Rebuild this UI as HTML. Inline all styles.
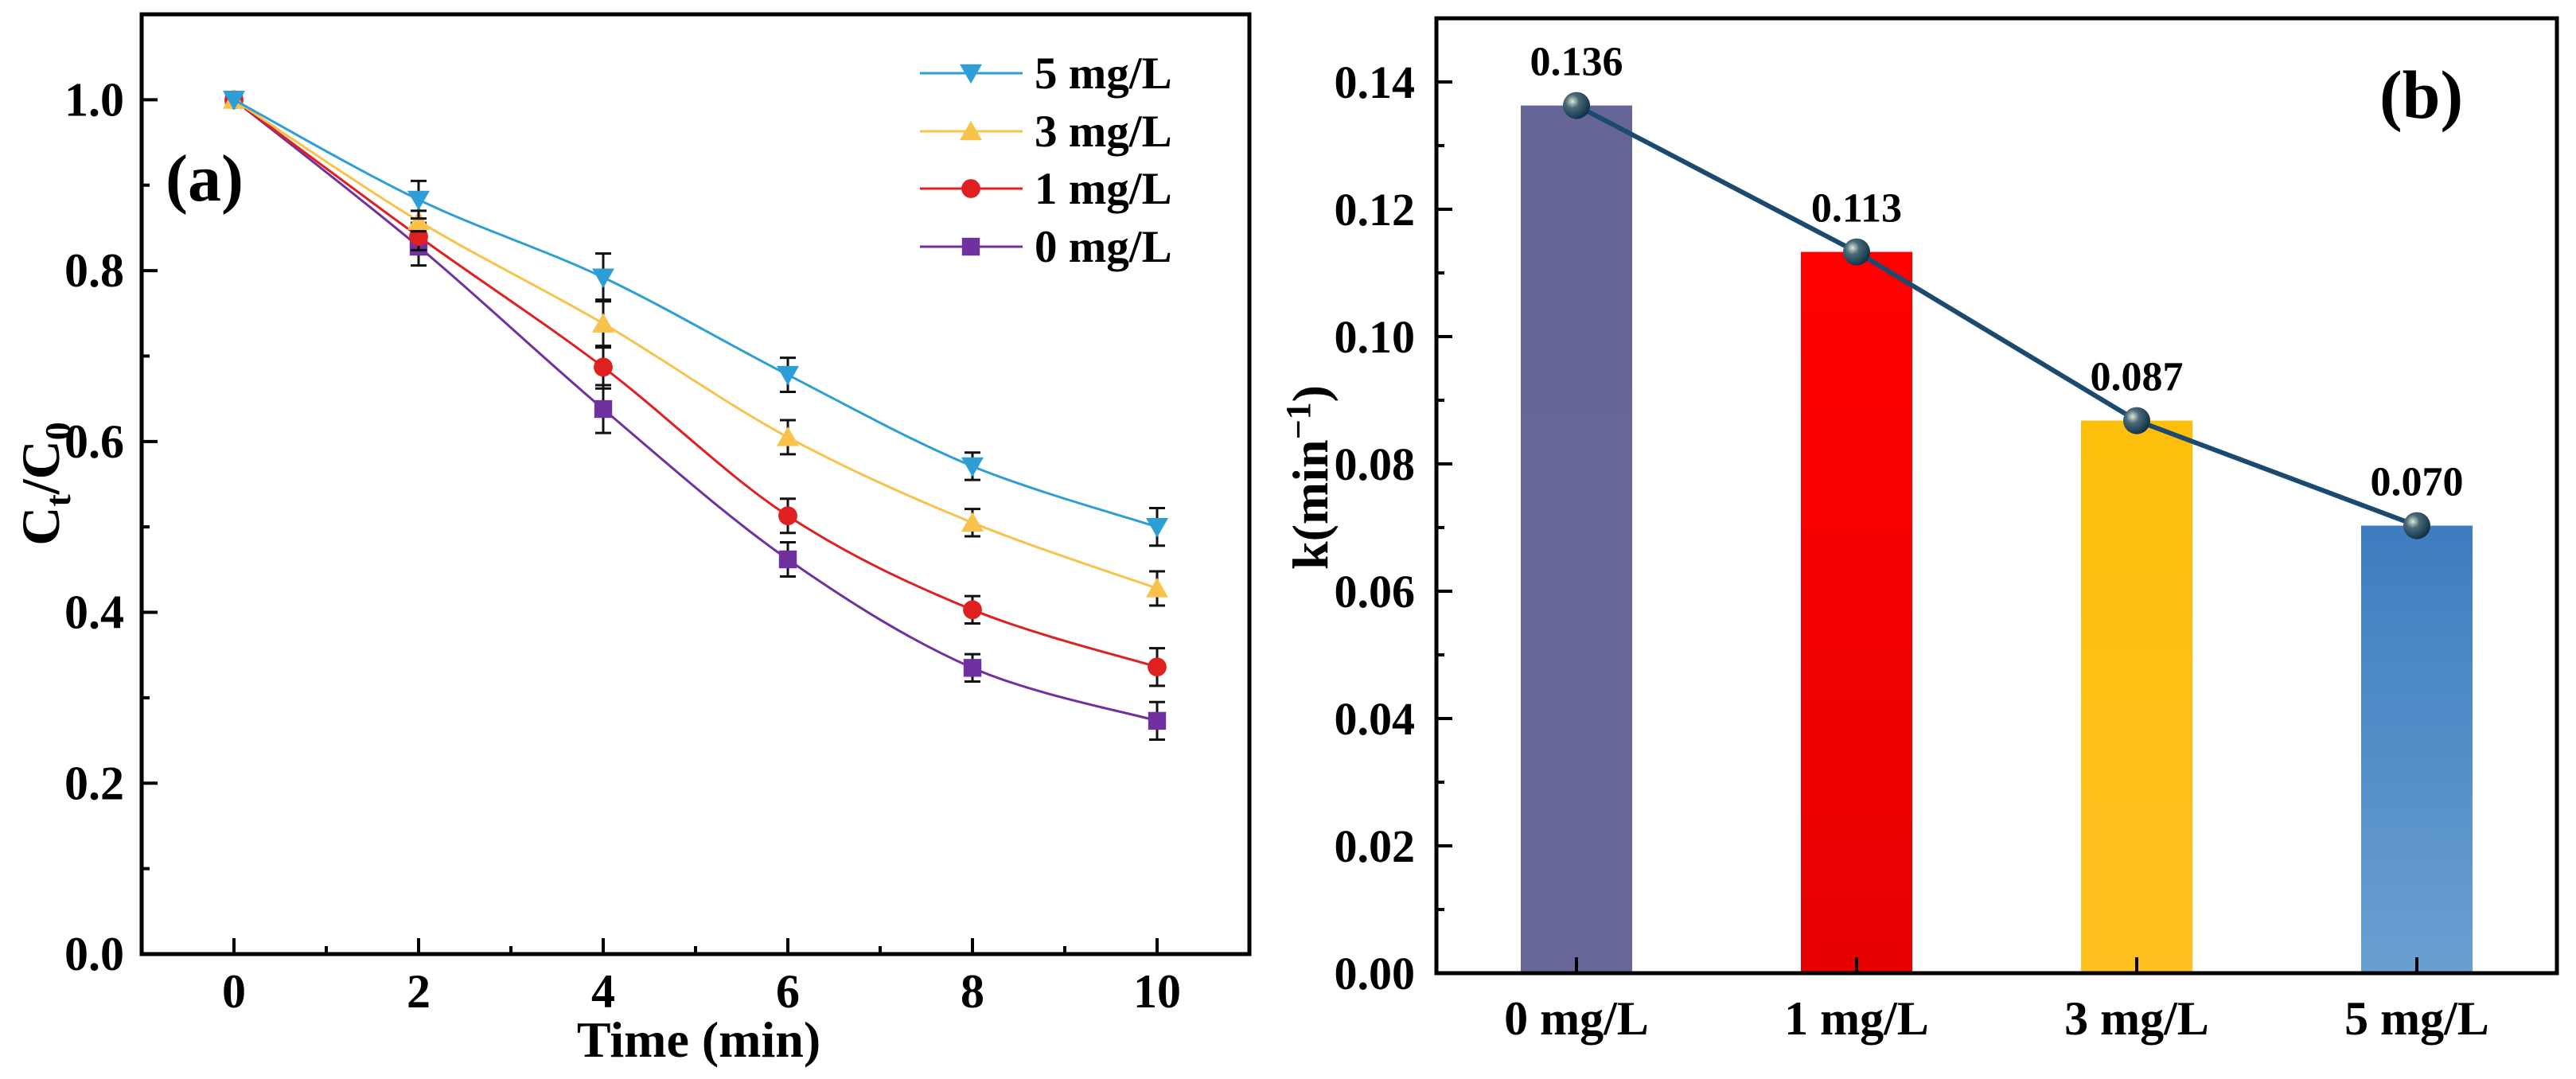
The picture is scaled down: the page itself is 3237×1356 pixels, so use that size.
<!DOCTYPE html>
<html><head><meta charset="utf-8"><style>
html,body{margin:0;padding:0;background:#fff;}
svg{display:block;font-family:"Liberation Serif",serif;font-weight:bold;}
</style></head><body>
<svg id="chart" width="3237" height="1356" viewBox="0 0 3237 1356" xmlns="http://www.w3.org/2000/svg">
<defs>
<radialGradient id="ball" cx="0.35" cy="0.35" r="0.7">
<stop offset="0" stop-color="#dfe8d8"/><stop offset="0.35" stop-color="#4a6a78"/><stop offset="1" stop-color="#0d2f45"/>
</radialGradient>
<linearGradient id="g0" x1="0" y1="0" x2="0" y2="1"><stop offset="0" stop-color="#656596"/><stop offset="1" stop-color="#686898"/></linearGradient>
<linearGradient id="g1" x1="0" y1="0" x2="0" y2="1"><stop offset="0" stop-color="#ff0000"/><stop offset="1" stop-color="#e60000"/></linearGradient>
<linearGradient id="g2" x1="0" y1="0" x2="0" y2="1"><stop offset="0" stop-color="#fdbf0b"/><stop offset="1" stop-color="#fdc020"/></linearGradient>
<linearGradient id="g3" x1="0" y1="0" x2="0" y2="1"><stop offset="0" stop-color="#3d7dbf"/><stop offset="1" stop-color="#6a9fd1"/></linearGradient>
</defs>
<g id="pa"></g>
<g id="pb"></g>
</svg>
<script>
const times=[0,2,4,6,8,10];
const seriesNames=["5 mg/L","3 mg/L","1 mg/L","0 mg/L"];
const s5=[1.0,0.883,0.792,0.678,0.571,0.500];
const s3=[1.0,0.858,0.738,0.605,0.505,0.428];
const s1=[1.0,0.840,0.687,0.513,0.403,0.336];
const s0=[1.0,0.828,0.638,0.462,0.335,0.273];
const e5=[0,0.022,0.028,0.02,0.016,0.022];
const e3=[0,0.012,0.028,0.02,0.016,0.02];
const e1=[0,0.016,0.025,0.02,0.016,0.022];
const e0=[0,0.022,0.028,0.02,0.016,0.022];
const xTicksA=[0,2,4,6,8,10];
const yTicksA=["0.0","0.2","0.4","0.6","0.8","1.0"];
const catsB=["0 mg/L","1 mg/L","3 mg/L","5 mg/L"];
const kVals=[0.1363,0.1133,0.0868,0.0703];
const kLabels=["0.136","0.113","0.087","0.070"];
const yTicksB=["0.00","0.02","0.04","0.06","0.08","0.10","0.12","0.14"];

const NS="http://www.w3.org/2000/svg";
function mk(parent,tag,attrs,text){const e=document.createElementNS(NS,tag);for(const k in attrs)e.setAttribute(k,attrs[k]);if(text!==undefined)e.textContent=text;parent.appendChild(e);return e;}

// Panel A
const pa=document.getElementById('pa');
const AL=178,AR=1570,AT=18,AB=1199;
const XMIN=-1,XMAX=11;
const ax=v=>AL+(v-XMIN)/(XMAX-XMIN)*(AR-AL);
const ay=v=>AB-v/1.1*(AB-AT);
let e;
e=mk(pa,'rect',{x:AL,y:AT,width:AR-AL,height:AB-AT,fill:'none',stroke:'#000','stroke-width':5});

for(let t=0;t<=10;t++){const x=ax(t);const major=t%2===0;
 e=mk(pa,'line',{x1:x,y1:AB,x2:x,y2:AB-(major?20:10),stroke:'#000','stroke-width':4});
 }
xTicksA.forEach(t=>{e=mk(pa,'text',{x:ax(t),y:1266,'font-size':60,'text-anchor':'middle'},String(t));
 });
for(let i=0;i<=10;i++){const y=ay(i*0.1);const major=i%2===0;
 e=mk(pa,'line',{x1:AL,y1:y,x2:AL+(major?20:10),y2:y,stroke:'#000','stroke-width':4});
 }
yTicksA.forEach(t=>{e=mk(pa,'text',{x:156,y:ay(parseFloat(t))+20,'font-size':60,'text-anchor':'end'},t);
 });
e=mk(pa,'text',{x:878,y:1328,'font-size':64,'text-anchor':'middle'},'Time (min)');

e=mk(pa,'text',{x:0,y:0,'font-size':68,'text-anchor':'middle',transform:'translate(74,608) rotate(-90)'});

e.innerHTML='C<tspan font-size="46" dy="14">t</tspan><tspan dy="-14">/C</tspan><tspan font-size="46" dy="14">0</tspan>';
e=mk(pa,'text',{x:208,y:252,'font-size':84},'(a)');


const colors=["#2d9fd6","#f9c24a","#e02020","#7030a0"];
const shapes=["tri-down","tri-up","circle","square"];
const allS=[s5,s3,s1,s0],allE=[e5,e3,e1,e0];
function marker(g,shape,x,y,c,r){
 if(shape==='tri-down')return mk(g,'polygon',{points:`${x-r},${y-r*0.8} ${x+r},${y-r*0.8} ${x},${y+r*0.95}`,fill:c});
 if(shape==='tri-up')return mk(g,'polygon',{points:`${x-r},${y+r*0.8} ${x+r},${y+r*0.8} ${x},${y-r*0.95}`,fill:c});
 if(shape==='circle')return mk(g,'circle',{cx:x,cy:y,r:r*0.85,fill:c});
 return mk(g,'rect',{x:x-r*0.8,y:y-r*0.8,width:r*1.6,height:r*1.6,fill:c});
}
function smooth(pts){let d=`M${pts[0][0]},${pts[0][1]}`;
 for(let i=0;i<pts.length-1;i++){const p0=pts[Math.max(0,i-1)],p1=pts[i],p2=pts[i+1],p3=pts[Math.min(pts.length-1,i+2)];
  const c1=[p1[0]+(p2[0]-p0[0])/6,p1[1]+(p2[1]-p0[1])/6],c2=[p2[0]-(p3[0]-p1[0])/6,p2[1]-(p3[1]-p1[1])/6];
  d+=` C${c1[0]},${c1[1]} ${c2[0]},${c2[1]} ${p2[0]},${p2[1]}`;}return d;}
for(let k=3;k>=0;k--){
 const g=mk(pa,'g',{});
 
 
 const pts=times.map((t,i)=>[ax(t),ay(allS[k][i])]);
 e=mk(g,'path',{d:smooth(pts),fill:'none',stroke:colors[k],'stroke-width':3});
 
 times.forEach((t,i)=>{const x=ax(t),y1=ay(allS[k][i]+allE[k][i]),y2=ay(allS[k][i]-allE[k][i]);
  if(allE[k][i]>0){e=mk(g,'path',{d:`M${x},${y1}V${y2}M${x-10},${y1}H${x+10}M${x-10},${y2}H${x+10}`,stroke:'#111','stroke-width':3,fill:'none'});
  }
  e=marker(g,shapes[k],x,ay(allS[k][i]),colors[k],14);
  });
}
const legY=[92,165,237,310];
seriesNames.forEach((n,k)=>{const g=mk(pa,'g',{});
 
 mk(g,'line',{x1:1156,y1:legY[k],x2:1285,y2:legY[k],stroke:colors[k],'stroke-width':3});
 marker(g,shapes[k],1220,legY[k],colors[k],14);
 mk(g,'text',{x:1300,y:legY[k]+19,'font-size':57},n);});

// Panel B
const pb=document.getElementById('pb');
const BL=1805,BR=3213,BT=23,BB=1223;
const by=v=>BB-v/0.15*(BB-BT);
const bw=(BR-BL)/catsB.length;
const bx=i=>BL+bw*(i+0.5);
catsB.forEach((c,i)=>{e=mk(pb,'rect',{x:bx(i)-70,y:by(kVals[i]),width:140,height:BB-by(kVals[i]),fill:`url(#g${i})`});
 });
e=mk(pb,'rect',{x:BL,y:BT,width:BR-BL,height:BB-BT,fill:'none',stroke:'#000','stroke-width':5});

for(let i=0;i<=14;i++){const y=by(i*0.01);const major=i%2===0;
 e=mk(pb,'line',{x1:BL,y1:y,x2:BL+(major?20:10),y2:y,stroke:'#000','stroke-width':4});
 }
yTicksB.forEach(t=>{e=mk(pb,'text',{x:1778,y:by(parseFloat(t))+20,'font-size':58,'text-anchor':'end'},t);
 });
catsB.forEach((c,i)=>{e=mk(pb,'line',{x1:bx(i),y1:BB,x2:bx(i),y2:BB-20,stroke:'#000','stroke-width':4});
 
 e=mk(pb,'text',{x:bx(i),y:1300,'font-size':60,'text-anchor':'middle'},c);
 });
e=mk(pb,'polyline',{points:catsB.map((c,i)=>`${bx(i)},${by(kVals[i])}`).join(' '),fill:'none',stroke:'#1b4a70','stroke-width':6});

catsB.forEach((c,i)=>{e=mk(pb,'circle',{cx:bx(i),cy:by(kVals[i]),r:17,fill:'url(#ball)'});
 
 e=mk(pb,'text',{x:bx(i),y:by(kVals[i])-38,'font-size':52,'text-anchor':'middle'},kLabels[i]);
 });
e=mk(pb,'text',{x:0,y:0,'font-size':64,'text-anchor':'middle',transform:'translate(1668,600) rotate(-90)'});

e.innerHTML='k(min<tspan font-size="44" dy="-22">−1</tspan><tspan dy="22">)</tspan>';
e=mk(pb,'text',{x:2990,y:148,'font-size':86},'(b)');

</script>
</body></html>
